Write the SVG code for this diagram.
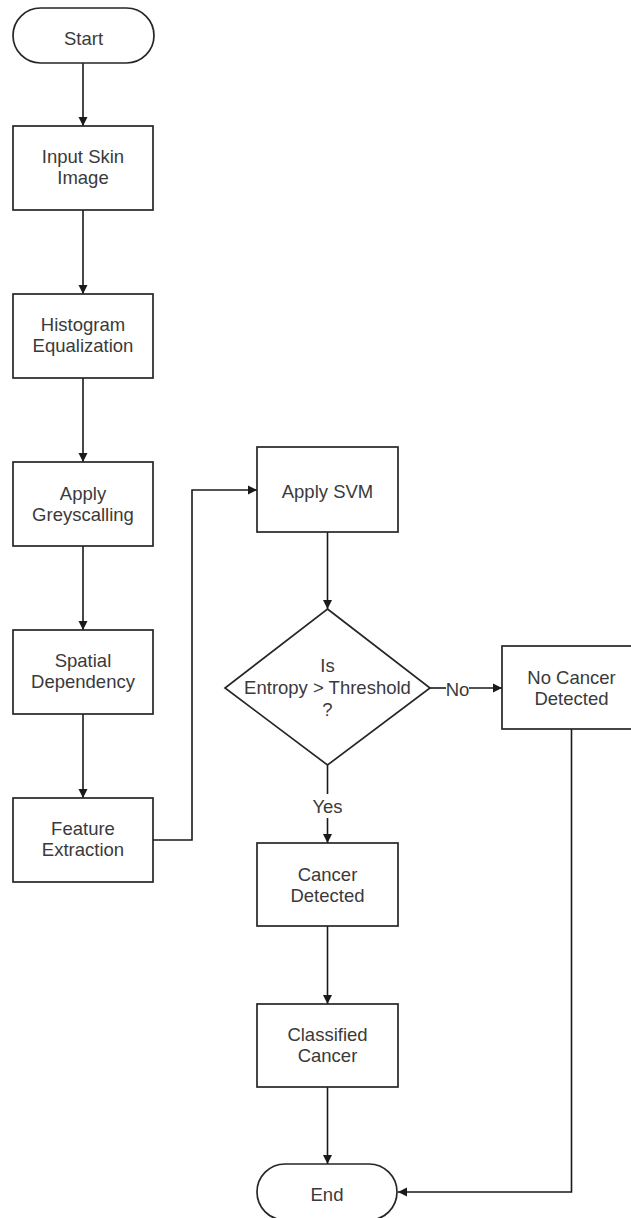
<svg xmlns="http://www.w3.org/2000/svg" width="631" height="1218" viewBox="0 0 631 1218">
<defs>
<marker id="arr" markerWidth="12" markerHeight="12" refX="10" refY="6" orient="auto" markerUnits="userSpaceOnUse">
<path d="M1,1.5 L10,6 L1,10.5 Z" fill="#1a1a1a"/>
</marker>
<style>
.sh{fill:#fff;stroke:#262626;stroke-width:1.7}
.t{font-family:"Liberation Sans",Arial,sans-serif;font-size:18.5px;fill:#3a3a3a;text-anchor:middle}
.c{fill:none;stroke:#1a1a1a;stroke-width:1.6}
</style>
</defs>
<rect width="631" height="1218" fill="#fff"/>
<g id="connectors">
<line class="c" x1="83" y1="63" x2="83" y2="126" marker-end="url(#arr)"/>
<line class="c" x1="83" y1="210" x2="83" y2="294" marker-end="url(#arr)"/>
<line class="c" x1="83" y1="378" x2="83" y2="462" marker-end="url(#arr)"/>
<line class="c" x1="83" y1="546" x2="83" y2="630" marker-end="url(#arr)"/>
<line class="c" x1="83" y1="714" x2="83" y2="798" marker-end="url(#arr)"/>
<polyline class="c" points="153,840 192,840 192,490 257,490" marker-end="url(#arr)"/>
<line class="c" x1="327.5" y1="532" x2="327.5" y2="609" marker-end="url(#arr)"/>
<line class="c" x1="430" y1="688" x2="446" y2="688"/>
<line class="c" x1="469" y1="688" x2="502" y2="688" marker-end="url(#arr)"/>
<text class="t" x="457.5" y="696">No</text>
<line class="c" x1="327.5" y1="765" x2="327.5" y2="794"/>
<line class="c" x1="327.5" y1="818" x2="327.5" y2="843" marker-end="url(#arr)"/>
<text class="t" x="327.5" y="813">Yes</text>
<line class="c" x1="327.5" y1="926" x2="327.5" y2="1004" marker-end="url(#arr)"/>
<line class="c" x1="327.5" y1="1087" x2="327.5" y2="1164" marker-end="url(#arr)"/>
<polyline class="c" points="571.5,729 571.5,1192 398,1192" marker-end="url(#arr)"/>
</g>
<g id="start">
<rect class="sh" x="13" y="8" width="141" height="55" rx="27.5" ry="27.5"/>
<text class="t" x="83.5" y="44.5">Start</text>
</g>
<g id="input">
<rect class="sh" x="13" y="126" width="140" height="84"/>
<text class="t" x="83" y="163">Input Skin</text>
<text class="t" x="83" y="184">Image</text>
</g>
<g id="histogram">
<rect class="sh" x="13" y="294" width="140" height="84"/>
<text class="t" x="83" y="331">Histogram</text>
<text class="t" x="83" y="352">Equalization</text>
</g>
<g id="grey">
<rect class="sh" x="13" y="462" width="140" height="84"/>
<text class="t" x="83" y="500">Apply</text>
<text class="t" x="83" y="521">Greyscalling</text>
</g>
<g id="spatial">
<rect class="sh" x="13" y="630" width="140" height="84"/>
<text class="t" x="83" y="667">Spatial</text>
<text class="t" x="83" y="688">Dependency</text>
</g>
<g id="feature">
<rect class="sh" x="13" y="798" width="140" height="84"/>
<text class="t" x="83" y="835">Feature</text>
<text class="t" x="83" y="856">Extraction</text>
</g>
<g id="svm">
<rect class="sh" x="257" y="447" width="141" height="85"/>
<text class="t" x="327.5" y="498">Apply SVM</text>
</g>
<g id="decision">
<polygon class="sh" points="327.5,609 430,688 327.5,765 225,688"/>
<text class="t" x="327.5" y="672">Is</text>
<text class="t" x="327.5" y="694">Entropy &gt; Threshold</text>
<text class="t" x="327.5" y="716">?</text>
</g>
<g id="nocancer">
<rect class="sh" x="502" y="646" width="140" height="83"/>
<text class="t" x="571.5" y="684">No Cancer</text>
<text class="t" x="571.5" y="705">Detected</text>
</g>
<g id="cancer">
<rect class="sh" x="257" y="843" width="141" height="83"/>
<text class="t" x="327.5" y="881">Cancer</text>
<text class="t" x="327.5" y="902">Detected</text>
</g>
<g id="classified">
<rect class="sh" x="257" y="1004" width="141" height="83"/>
<text class="t" x="327.5" y="1041">Classified</text>
<text class="t" x="327.5" y="1062">Cancer</text>
</g>
<g id="end">
<rect class="sh" x="257" y="1164" width="140" height="56" rx="28" ry="28"/>
<text class="t" x="327" y="1201">End</text>
</g>
</svg>
